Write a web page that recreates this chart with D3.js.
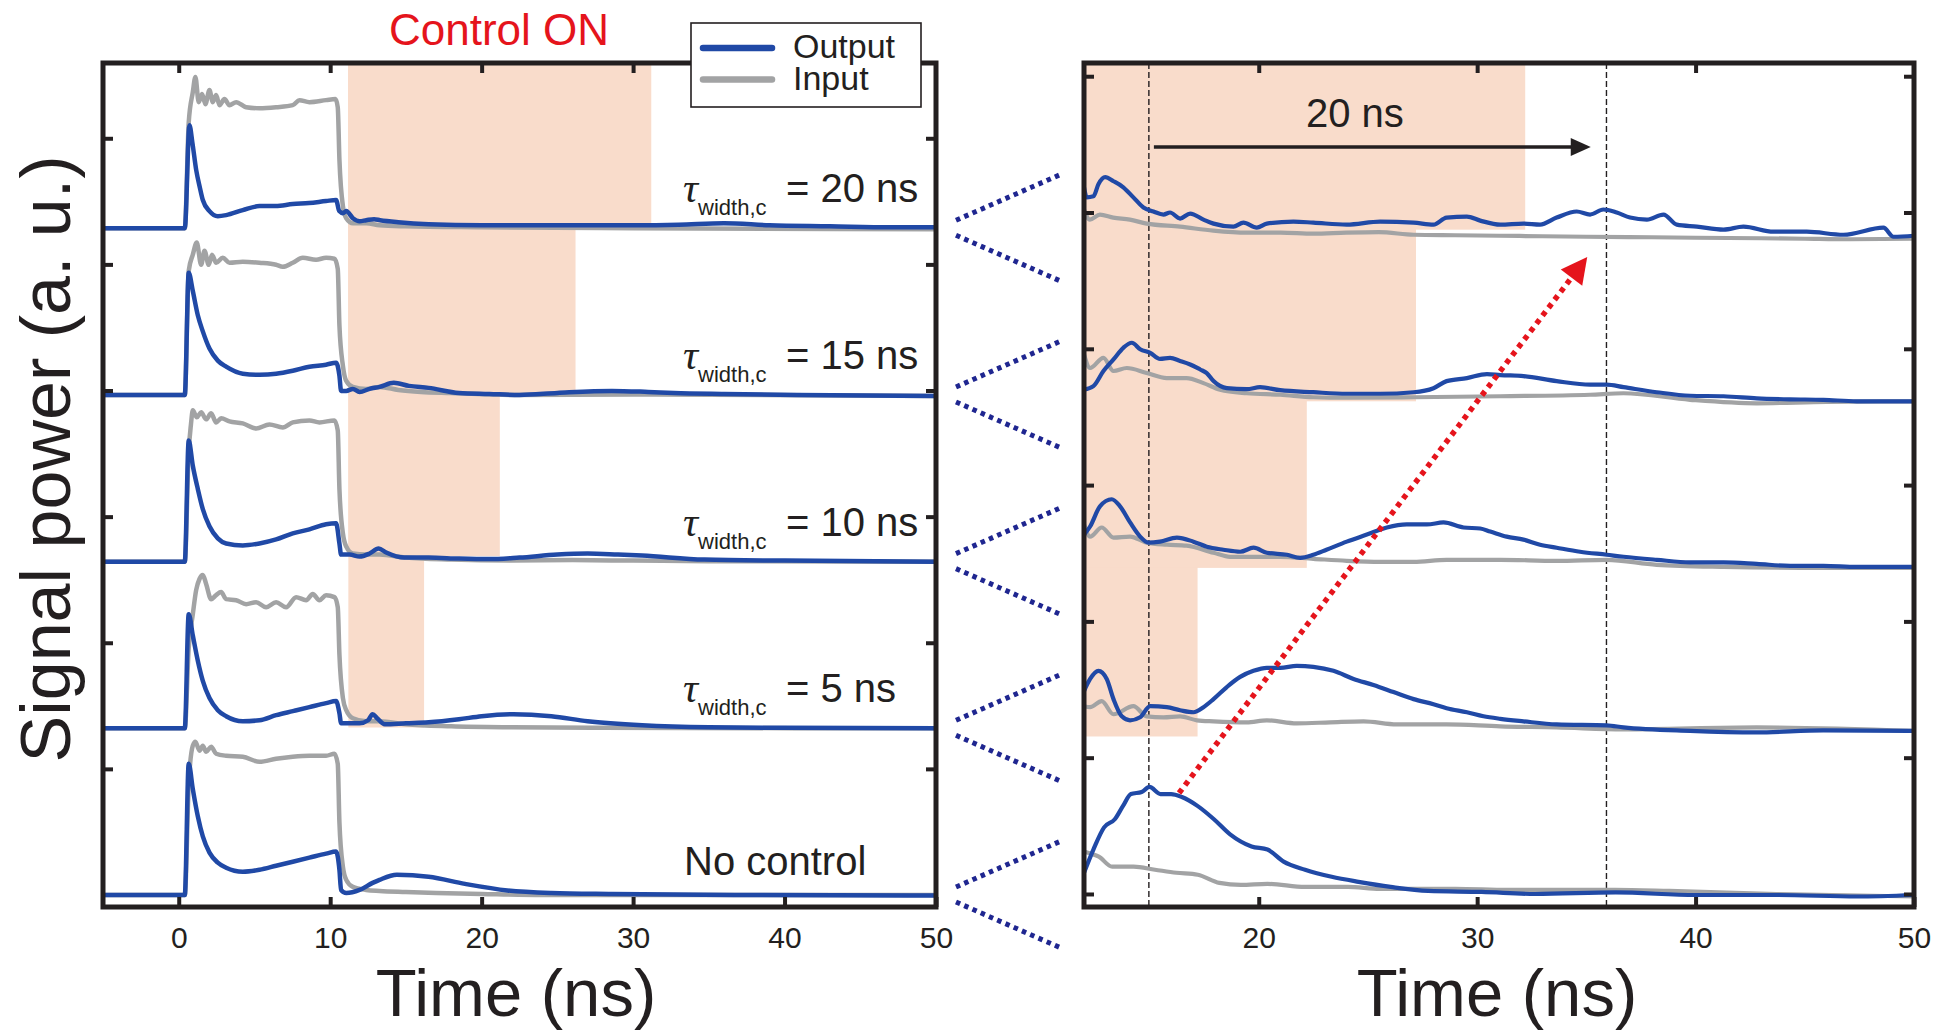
<!DOCTYPE html>
<html>
<head>
<meta charset="utf-8">
<script src="https://cdn.jsdelivr.net/npm/d3@7"></script>
<style>
  html, body { margin: 0; padding: 0; background: #ffffff; }
  svg { display: block; font-family: "Liberation Sans", Arial, Helvetica, sans-serif; }
</style>
</head>
<body>
<svg id="chart" width="1941" height="1030"></svg>
<script>
// ---------------------------------------------------------------
// Measured traces: [time (ns), signal (a.u.)], one array per trace.
// Left panel: full pulse, five stacked measurements.
// ---------------------------------------------------------------
const inputNoCtrl = [[-5,0],[0.4,0],[0.66,110],[0.93,148],[1.1,152],[1.37,143],[1.59,148],[1.81,142],[2.14,147],[2.47,140],[3.13,138],[4.23,137],[5.33,132],[6.43,135],[7.53,137],[8.63,138],[9.73,138],[10.28,140],[10.5,130],[10.61,72],[10.84,28],[11.06,15],[11.5,8],[12.38,5],[13.26,4],[15,3],[17,2],[20,1],[24,0],[50,0]];
const outputNoCtrl = [[-5,0],[0.4,0],[0.66,130],[0.93,105],[1.26,78],[1.59,58],[2.03,42],[2.58,32],[3.13,27],[4.23,23],[5.33,25],[6.43,29],[7.53,33],[8.63,37],[9.73,41],[10.39,43],[10.61,25],[10.72,5],[11.06,2],[11.94,5],[12.8,12],[13.26,15],[14.4,20],[16.5,18],[18.9,11],[21.7,4.5],[24.6,2],[28.6,1],[36.7,0],[50,-0.5]];

const input5 = [[-5,0],[0.4,0],[0.66,80],[0.93,113],[1.15,137],[1.37,148],[1.59,152],[1.81,143],[2.14,128],[2.47,132],[2.8,135],[3.13,128],[3.79,127],[4.45,123],[5.11,125],[5.77,120],[6.43,125],[7.09,120],[7.75,130],[8.41,127],[8.85,133],[9.29,127],[9.73,132],[10.28,130],[10.5,120],[10.61,73],[10.84,30],[11.06,18],[11.5,10],[12.38,7],[13.26,7],[15,4],[18,2],[22,1],[28,0.5],[50,0]];
const output5 = [[-5,0],[0.4,0],[0.66,113],[0.93,92],[1.26,67],[1.59,47],[2.03,30],[2.58,18],[3.13,12],[4.23,7],[5.33,8],[6.43,13],[7.53,17],[8.63,21],[9.73,25],[10.39,27],[10.61,15],[10.72,5],[11.28,5],[11.94,5],[12.5,8],[12.8,14],[13.1,10],[13.6,4],[15,5],[16.5,6],[18.5,9],[20,12],[22.1,14],[24.6,12],[27,7],[30.6,3],[35,1],[40,0.5],[50,0]];

const input10 = [[-5,0],[0.4,0],[0.66,110],[0.8,135],[0.93,150],[1.19,143],[1.48,148],[1.81,141],[2.14,147],[2.47,138],[2.8,142],[3.35,139],[4.23,137],[5.11,132],[5.99,136],[6.87,133],[7.53,138],[8.63,140],[9.29,138],[10.28,140],[10.5,130],[10.61,72],[10.84,28],[11.06,15],[11.5,8],[12.38,7],[13.26,7],[15,4],[18,2],[22,1],[26,1.5],[30,1],[35,0.5],[50,0]];
const output10 = [[-5,0],[0.4,0],[0.66,120],[0.93,95],[1.26,72],[1.59,52],[2.03,35],[2.58,23],[3.13,18],[4.23,16],[5.33,18],[6.43,22],[7.53,28],[8.63,32],[9.73,37],[10.39,38],[10.61,18],[10.72,7],[11.28,7],[11.94,5],[12.6,8],[13.2,13],[13.7,9],[14.9,4],[16.5,4],[18.5,3],[20.5,2.5],[22.5,4],[25,7],[27,8],[29,7],[30.6,6],[34.7,2],[40,1],[50,0]];

const input15 = [[-5,0],[0.4,0],[0.66,123],[0.93,139],[1.19,151],[1.48,129],[1.7,143],[1.98,129],[2.2,139],[2.47,131],[2.91,136],[3.35,131],[4.23,132],[5.33,131],[6.43,129],[6.87,127],[7.53,131],[8.19,136],[9.07,134],[9.73,136],[10.28,135],[10.5,125],[10.61,69],[10.84,29],[11.06,14],[11.5,8],[12.38,6],[13.26,8],[14.5,5],[16,3],[18,2],[22,0],[30,0.5],[50,-1]];
const output15 = [[-5,0],[0.4,0],[0.66,121],[0.93,103],[1.26,79],[1.59,63],[2.03,46],[2.58,34],[3.13,28],[4.23,21],[5.33,20],[6.43,21],[7.53,24],[8.63,28],[9.73,30],[10.39,32],[10.61,19],[10.72,4],[11.06,4],[11.5,6],[11.94,3],[12.6,6],[13.26,8],[14.2,12],[15.2,9],[16.5,7],[18.5,2],[20.5,1],[22.5,0],[25,2],[28.6,4],[31,3],[32.7,2],[36,1],[40.8,0],[50,-1]];

const input20 = [[-5,0],[0.4,0],[0.66,105],[0.93,135],[1.1,150],[1.32,125],[1.54,133],[1.76,123],[2.03,137],[2.25,125],[2.47,132],[2.69,122],[3.02,128],[3.35,122],[3.79,125],[4.45,120],[5.33,119],[6.43,120],[7.53,122],[7.97,127],[8.63,125],[9.73,127],[10.35,128],[10.5,120],[10.61,68],[10.84,22],[11.06,10],[11.5,5],[12.38,5],[13.26,3],[15,2],[20,1],[30,0],[50,-1]];
const output20 = [[-5,0],[0.4,0],[0.71,102],[0.9,85],[1.15,58],[1.4,40],[1.59,28],[2.03,17],[2.58,12],[3.13,13],[4.23,18],[5.33,22],[6.4,22],[7.53,24],[8.6,25],[9.73,27],[10.39,28],[10.6,17],[10.84,15],[11.06,17],[11.5,10],[11.94,7],[12.38,8],[12.9,9],[13.3,8],[14.5,6],[16.5,4],[20,3],[25,3],[30,3],[33,3.5],[36,5],[39,3],[43,2],[47,1],[50,1]];

// Right panel: magnified view of the tails after the pulse.
const zoomInputNoCtrl = [[12,42],[12.3,40],[12.68,37],[13.29,27],[14.27,27],[15.25,24],[16.23,21],[17.21,19],[18.2,11],[19.18,9],[20.4,10],[22.12,7],[24.08,7],[25.55,5],[29,5],[31.4,4],[36.3,4],[38.8,3],[43.7,0],[50,-2.5]];
const zoomOutputNoCtrl = [[12,21],[12.43,44],[12.92,66],[13.41,74],[13.78,87],[14.15,99],[14.64,101],[15.0,106],[15.5,99],[15.99,99],[16.48,96],[17.21,87],[17.95,74],[18.69,59],[19.67,47],[20.4,44],[21.14,32],[22.12,24],[23.34,17],[24.57,12],[26.04,7],[27.76,3],[30.21,2],[32.66,0],[36.34,1.5],[40,-1],[43.7,-1],[47.4,-2.5],[50,-1]];

const zoomInput5 = [[12,24],[12.28,23],[12.81,29],[13.35,16],[14.26,24],[14.87,14],[15.64,13],[16.4,14],[17.17,10],[17.93,9],[19.45,8],[20.37,10],[21.74,7],[23.27,8],[24.8,9],[26.32,6],[28.6,6],[31.06,4],[33.64,3],[36.7,1],[42.8,3],[50,-0.5]];
const zoomOutput5 = [[12,39],[12.28,51],[12.66,59],[13.04,51],[13.35,31],[13.73,14],[14.11,10],[14.57,13],[15.03,24],[15.79,23],[16.4,20],[17.01,18],[17.47,23],[17.93,31],[18.54,43],[19.15,53],[19.76,59],[20.37,62],[20.98,62],[21.74,64],[22.5,63],[23.42,59],[24.34,51],[25.25,45],[26.17,38],[27.09,31],[28.0,26],[28.6,22],[29.53,18],[30.29,14],[31.06,11.5],[32.12,9],[33.64,6],[35.93,5],[36.7,3],[39.75,-0.5],[42.8,-2],[45.85,0],[50,-0.5]];

const zoomInput10 = [[12,42],[12.28,30],[12.81,39],[13.35,29],[14.11,30],[14.87,24],[15.79,22],[16.7,21],[17.93,14],[18.69,10],[19.45,10],[20.98,10],[22.5,8],[24.03,6],[25.56,5],[27.09,5],[28.6,7],[31.06,7],[33.64,6],[35.93,7],[38.22,2],[41.28,0],[45.85,-1],[50,-1]];
const zoomOutput10 = [[12,32],[12.28,40],[12.73,60],[13.27,67],[13.65,60],[14.11,44],[14.57,30],[14.95,24],[15.48,25],[16.25,29],[17.01,25],[17.62,20],[18.38,17],[19.15,15],[19.76,19],[20.37,14],[21.29,12],[21.9,9],[22.5,12],[23.1,17],[24.03,25],[24.95,32],[25.87,39],[26.78,42],[27.7,42],[28.46,44],[29.38,39],[30.14,38],[30.6,35],[31.35,30],[32.12,27],[32.88,22],[33.64,19],[34.71,15],[35.93,12],[36.7,10],[38.22,7],[39.75,4.5],[41.28,4.5],[42.8,3],[44.33,1],[45.85,1],[47.38,0],[50,0]];

const zoomInput15 = [[12,48.5],[12.28,35],[12.89,45],[13.35,32],[13.96,35],[14.87,30],[15.79,25],[16.7,25],[17.47,20],[18.23,13.5],[19.45,10],[20.98,8.5],[22.5,6],[24.03,5.5],[27.1,6],[31.06,7],[35.17,8.5],[36.7,10],[39.75,3.5],[42.8,0],[46,1.5],[50,2]];
const zoomOutput15 = [[12,13.5],[12.43,17],[12.89,32],[13.35,43.5],[13.8,55],[14.19,60],[14.57,53.5],[15.03,50],[15.48,44],[15.94,45],[16.4,42],[16.86,38.5],[17.32,33.5],[17.62,30],[17.93,22],[18.54,15],[19.45,14],[20.06,16],[20.98,13],[22.5,11],[24.03,9.5],[25.56,9.5],[27.09,11],[28.0,15],[28.6,22],[29.53,25],[30.45,29],[31.06,28],[32.12,27],[33.64,22],[35.17,18.5],[35.93,18.5],[36.7,16],[38.22,11],[39.75,7.5],[41.28,7],[42.8,5],[44.33,4],[45.85,3.5],[47.38,2],[50,2]];

const zoomInput20 = [[12,30],[12.27,20],[12.73,25],[13.34,22],[14.1,20],[14.87,16],[16.4,13],[17.92,9],[19.45,7],[21,7],[22.5,6],[24,7],[25.5,7.5],[27.1,5],[29,4.5],[31,4],[33,3.5],[35,3],[38,2.5],[40,2],[43,1.5],[45,1],[47,0.5],[50,1]];
const zoomOutput20 = [[12,52],[12.13,42],[12.43,43],[12.66,55],[12.97,62],[13.35,58],[13.8,52],[14.26,42],[14.72,32],[15.18,28],[15.64,25],[15.94,27],[16.4,21],[16.86,26],[17.47,20],[17.93,16],[18.84,13],[19.3,17],[19.91,12],[20.37,16],[21.59,18],[22.5,17],[24.03,15],[25.56,18],[27.09,17],[28.0,15],[28.6,22],[29.53,23],[30.14,19],[31.06,15],[32.12,16],[32.88,15],[33.64,22],[34.56,28],[35.17,25],[35.78,30],[36.39,27],[37.0,22],[37.77,20],[38.53,25],[39.14,15],[40.06,13],[41.28,10],[42.19,13],[43.57,8],[45.09,8],[46.77,5],[48.6,12],[49.06,3],[50,4]];

// Stacking: vertical offset of each measurement (a.u.), bottom to top
const caseNames = ["No control", "5 ns", "10 ns", "15 ns", "20 ns"];
const stackLeft = [0, 165.2, 330.4, 495.6, 660.8];
const stackRight = [0, 162, 324, 486, 648];

// Control pulse: width of each window (ns) and onset in each panel's time base
const controlWidths = [5, 10, 15, 20];
const controlStart = 11.2;
const controlStartZoom = 12.2;
const shadeFloorLeft = [166, 336, 495, 661];
const shadeFloorRight = [156, 323, 488, 658];

// Axes ticks
const xTicksLeft = [0, 10, 20, 30, 40, 50];
const xTopTicksLeft = [0, 10, 20, 30, 40];
const xTicksRight = [20, 30, 40, 50];
const xTopTicksRight = [20, 30, 40];
const yTicksLeft = [125, 250, 375, 500, 625, 750];
const yTicksRight = [0, 135, 270, 405, 540, 675, 810];

// Labels and annotations
const tauValues = ["= 5 ns", "= 10 ns", "= 15 ns", "= 20 ns"];
const markerTimes = [14.97, 35.92];          // dashed reference lines
const delayStart = 15.2, delayLength = 20, delayLevel = 740;
const shiftArrow = { from: [16.35, 100], to: [35.04, 631] };

// ---------------------------------------------------------------
const INK = "#231f20", BLUE = "#2049a6", GRAY = "#a2a3a4", SHADE = "#f9dccb",
      RED = "#e5141c", NAVY = "#1f2690";

const svg = d3.select("#chart");

const xL = d3.scaleLinear().domain([-5, 50]).range([103, 936]);
const yL = d3.scaleLinear().domain([-11.9, 824.6]).range([907, 63]);
const xR = d3.scaleLinear().domain([12, 50]).range([1084, 1914]);
const yR = d3.scaleLinear().domain([-12.9, 823.1]).range([907, 63]);

const leftInputs = [inputNoCtrl, input5, input10, input15, input20];
const leftOutputs = [outputNoCtrl, output5, output10, output15, output20];
const rightInputs = [zoomInputNoCtrl, zoomInput5, zoomInput10, zoomInput15, zoomInput20];
const rightOutputs = [zoomOutputNoCtrl, zoomOutput5, zoomOutput10, zoomOutput15, zoomOutput20];

const defs = svg.append("defs");
function addClip(id, x, y) {
  defs.append("clipPath").attr("id", id).append("rect")
    .attr("x", x.range()[0]).attr("y", y.range()[1])
    .attr("width", x.range()[1] - x.range()[0])
    .attr("height", y.range()[0] - y.range()[1]);
}
addClip("clipL", xL, yL);
addClip("clipR", xR, yR);

// ---- control-pulse shading (staircase) ----
const shadeL = svg.append("g").attr("clip-path", "url(#clipL)");
controlWidths.forEach((w, i) => {
  shadeL.append("rect")
    .attr("x", xL(controlStart)).attr("width", xL(controlStart + w) - xL(controlStart))
    .attr("y", yL.range()[1]).attr("height", yL(shadeFloorLeft[i]) - yL.range()[1])
    .attr("fill", SHADE);
});
const shadeR = svg.append("g").attr("clip-path", "url(#clipR)");
controlWidths.forEach((w, i) => {
  const x0 = xR(controlStartZoom) - 20;
  shadeR.append("rect")
    .attr("x", x0).attr("width", xR(controlStartZoom + w) - x0)
    .attr("y", yR.range()[1]).attr("height", yR(shadeFloorRight[i]) - yR.range()[1])
    .attr("fill", SHADE);
});

// ---- dashed reference lines in the magnified panel ----
svg.append("g").selectAll("line").data(markerTimes).join("line")
  .attr("x1", d => xR(d)).attr("x2", d => xR(d))
  .attr("y1", yR.range()[1]).attr("y2", yR.range()[0])
  .attr("stroke", INK).attr("stroke-width", 1.4).attr("stroke-dasharray", "6 3");

// ---- traces ----
function drawTraces(x, y, inputs, outputs, stack, clip, width) {
  const g = svg.append("g").attr("clip-path", `url(#${clip})`);
  const draw = (series, i, color) => {
    const line = d3.line().curve(d3.curveMonotoneX)
      .x(d => x(d[0])).y(d => y(stack[i] + d[1]));
    g.append("path").attr("d", line(series)).attr("fill", "none")
      .attr("stroke", color).attr("stroke-width", width)
      .attr("stroke-linejoin", "round").attr("stroke-linecap", "round");
  };
  inputs.forEach((s, i) => draw(s, i, GRAY));
  outputs.forEach((s, i) => draw(s, i, BLUE));
}
drawTraces(xL, yL, leftInputs, leftOutputs, stackLeft, "clipL", 4.5);
drawTraces(xR, yR, rightInputs, rightOutputs, stackRight, "clipR", 4.2);

// ---- frames and inward ticks ----
function styleAxis(g, fontSize) {
  g.select(".domain").remove();
  g.selectAll(".tick line").attr("stroke", INK).attr("stroke-width", 4);
  g.selectAll(".tick text").attr("fill", INK).attr("font-size", fontSize)
    .attr("font-family", "'Liberation Sans', Arial, sans-serif");
}
function frame(x, y, bottomTicks, topTicks, yTicks) {
  const [x0, x1] = x.range(), [y1, y0] = y.range();
  svg.append("g").attr("transform", `translate(0,${y1})`)
    .call(d3.axisBottom(x).tickValues(bottomTicks).tickSize(-10).tickPadding(20).tickFormat(d3.format("d")))
    .call(g => styleAxis(g, 30));
  svg.append("g").attr("transform", `translate(0,${y0})`)
    .call(d3.axisTop(x).tickValues(topTicks).tickSize(-10).tickFormat(""))
    .call(g => styleAxis(g, 30));
  svg.append("g").attr("transform", `translate(${x0},0)`)
    .call(d3.axisLeft(y).tickValues(yTicks).tickSize(-10).tickFormat(""))
    .call(g => styleAxis(g, 30));
  svg.append("g").attr("transform", `translate(${x1},0)`)
    .call(d3.axisRight(y).tickValues(yTicks).tickSize(-10).tickFormat(""))
    .call(g => styleAxis(g, 30));
  svg.append("rect").attr("x", x0).attr("y", y0)
    .attr("width", x1 - x0).attr("height", y1 - y0)
    .attr("fill", "none").attr("stroke", INK).attr("stroke-width", 5);
}
frame(xL, yL, xTicksLeft, xTopTicksLeft, yTicksLeft);
frame(xR, yR, xTicksRight, xTopTicksRight, yTicksRight);

// ---- dotted connectors between the two panels ----
const connectors = svg.append("g");
stackLeft.forEach(off => {
  const yb = yL(off);
  const xs = xL(50) + 20, xe = xR(12) - 23;
  [[yb - 8, yb - 54], [yb + 7, yb + 53]].forEach(([ys, ye]) => {
    connectors.append("line")
      .attr("x1", xs).attr("y1", ys).attr("x2", xe).attr("y2", ye)
      .attr("stroke", NAVY).attr("stroke-width", 5).attr("stroke-dasharray", "4.5 4.5");
  });
});

// ---- case labels ----
const labels = svg.append("g").attr("fill", INK);
labels.append("text")
  .attr("x", 684).attr("y", yL(stackLeft[0]) - 20)
  .attr("font-size", 40).text(caseNames[0]);
tauValues.forEach((txt, i) => {
  const t = labels.append("text").attr("x", 683).attr("y", yL(stackLeft[i + 1]) - 26);
  t.append("tspan").attr("font-family", "'Liberation Serif', 'Times New Roman', serif")
    .attr("font-style", "italic").attr("font-size", 42).text("τ");
  t.append("tspan").attr("font-size", 22).attr("dy", 13).text("width,c");
  t.append("tspan").attr("x", 786).attr("dy", -13).attr("font-size", 40).text(txt);
});

// ---- annotation: control ON ----
svg.append("text").attr("x", 499).attr("y", 45).attr("text-anchor", "middle")
  .attr("font-size", 44).attr("fill", RED).text("Control ON");

// ---- annotation: 20 ns delay arrow ----
{
  const ay = yR(delayLevel);
  const ax0 = xR(delayStart), ax1 = xR(delayStart + delayLength);
  svg.append("line").attr("x1", ax0).attr("y1", ay).attr("x2", ax1 - 16).attr("y2", ay)
    .attr("stroke", INK).attr("stroke-width", 3.5);
  svg.append("path")
    .attr("d", `M${ax1},${ay} L${ax1 - 20},${ay - 9} L${ax1 - 20},${ay + 9} Z`)
    .attr("fill", INK);
  svg.append("text").attr("x", xR(24.4)).attr("y", 127).attr("text-anchor", "middle")
    .attr("font-size", 40).attr("fill", INK).text(`${delayLength} ns`);
}

// ---- annotation: red dotted shift arrow ----
{
  const sx = xR(shiftArrow.from[0]), sy = yR(shiftArrow.from[1]);
  const tx = xR(shiftArrow.to[0]), ty = yR(shiftArrow.to[1]);
  const len = Math.hypot(tx - sx, ty - sy);
  const ux = (tx - sx) / len, uy = (ty - sy) / len;
  const head = 26, half = 13.5;
  const bx = tx - ux * head, by = ty - uy * head;
  svg.append("line").attr("x1", sx).attr("y1", sy).attr("x2", bx).attr("y2", by)
    .attr("stroke", RED).attr("stroke-width", 5.5).attr("stroke-dasharray", "5 5");
  svg.append("path")
    .attr("d", `M${tx},${ty} L${bx - uy * half},${by + ux * half} L${bx + uy * half},${by - ux * half} Z`)
    .attr("fill", RED);
}

// ---- legend ----
const lg = svg.append("g");
lg.append("rect").attr("x", 691).attr("y", 23).attr("width", 230).attr("height", 84)
  .attr("fill", "#ffffff").attr("stroke", INK).attr("stroke-width", 1.6);
[["Output", BLUE, 48, 58], ["Input", GRAY, 79.5, 90]].forEach(([name, color, ly, ty]) => {
  lg.append("line").attr("x1", 703).attr("x2", 772).attr("y1", ly).attr("y2", ly)
    .attr("stroke", color).attr("stroke-width", 6.5).attr("stroke-linecap", "round");
  lg.append("text").attr("x", 793).attr("y", ty).attr("font-size", 34)
    .attr("fill", INK).text(name);
});

// ---- axis titles ----
[516, 1497].forEach(cx => {
  svg.append("text").attr("x", cx).attr("y", 1016).attr("text-anchor", "middle")
    .attr("font-size", 67).attr("fill", INK).text("Time (ns)");
});
svg.append("text")
  .attr("transform", "translate(70,459) rotate(-90)")
  .attr("text-anchor", "middle").attr("font-size", 70).attr("fill", INK)
  .text("Signal power (a. u.)");
</script>
</body>
</html>
